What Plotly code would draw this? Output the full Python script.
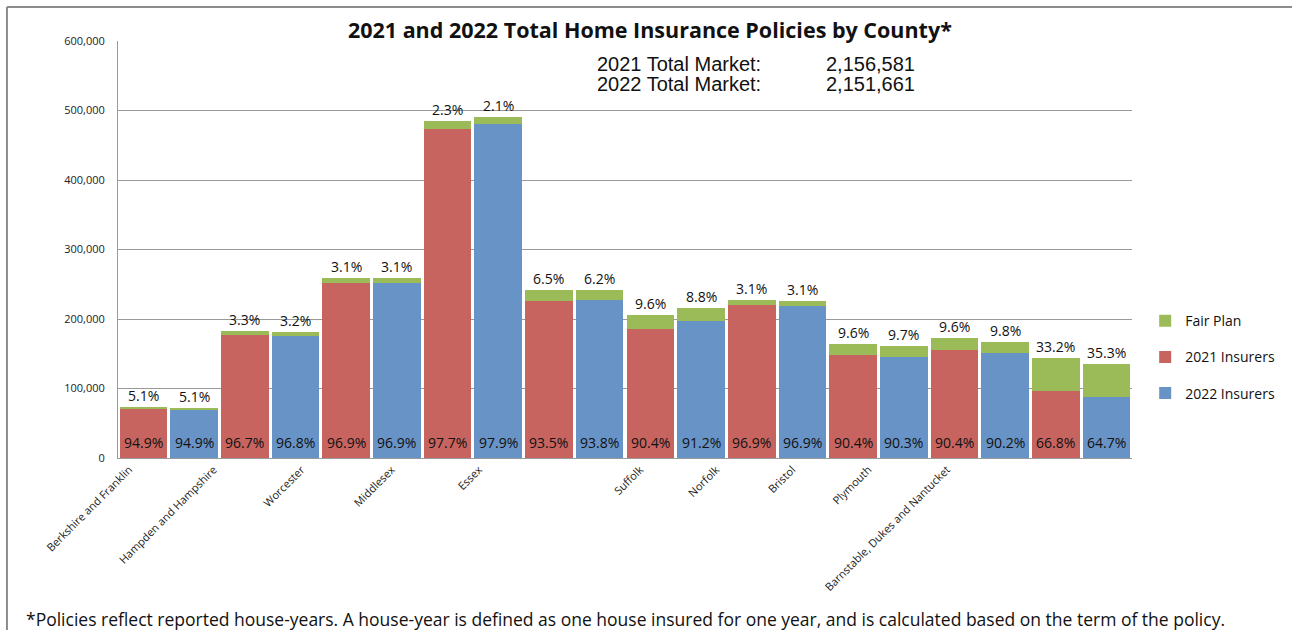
import plotly.graph_objects as go

# County groups shown on the x axis
counties = [
    "Berkshire and Franklin", "Hampden and Hampshire", "Worcester", "Middlesex",
    "Essex", "Suffolk", "Norfolk", "Bristol", "Plymouth",
    "Barnstable, Dukes and Nantucket",
]

# Total policies (insurers + Fair Plan) per county
total_2021 = [73600, 182700, 259600, 484400, 241400, 205700, 227300, 164500, 172200, 143900]
total_2022 = [72400, 181800, 259500, 491100, 241700, 215400, 225400, 161600, 166900, 134900]

# Share of policies written by voluntary insurers (%)
ins_share_2021 = [94.9, 96.7, 96.9, 97.7, 93.5, 90.4, 96.9, 90.4, 90.4, 66.8]
ins_share_2022 = [94.9, 96.8, 96.9, 97.9, 93.8, 91.2, 96.9, 90.3, 90.2, 64.7]

# Share written by the Fair Plan (%)
fair_share_2021 = [5.1, 3.3, 3.1, 2.3, 6.5, 9.6, 3.1, 9.6, 9.6, 33.2]
fair_share_2022 = [5.1, 3.2, 3.1, 2.1, 6.2, 8.8, 3.1, 9.7, 9.8, 35.3]

market_2021 = 2156581
market_2022 = 2151661

# Where each rotated county name sits along the bar axis
label_pos = [-0.28, 1.39, 3.12, 4.9, 6.62, 9.8, 11.3, 12.8, 14.3, 15.85]

RED = "#C8645F"
BLUE = "#6893C6"
GREEN = "#9BBB59"
FONT = "'Open Sans', sans-serif"
ARIAL = "'Liberation Sans', Arial, sans-serif"

n = len(counties)
x21 = [2 * i for i in range(n)]
x22 = [2 * i + 1 for i in range(n)]

ins21 = [t * s / 100 for t, s in zip(total_2021, ins_share_2021)]
ins22 = [t * s / 100 for t, s in zip(total_2022, ins_share_2022)]
fair21 = [t - v for t, v in zip(total_2021, ins21)]
fair22 = [t - v for t, v in zip(total_2022, ins22)]

fair_x = []
fair_y = []
for i in range(n):
    fair_x += [x21[i], x22[i]]
    fair_y += [fair21[i], fair22[i]]

fig = go.Figure()
fig.add_trace(go.Bar(
    x=x21, y=ins21, name="2021 Insurers", marker_color=RED, width=0.94,
    marker_line_width=0, legendrank=2, legendgroup="a",
))
fig.add_trace(go.Bar(
    x=x22, y=ins22, name="2022 Insurers", marker_color=BLUE, width=0.94,
    marker_line_width=0, legendrank=3, legendgroup="b",
))
fig.add_trace(go.Bar(
    x=fair_x, y=fair_y, name="Fair Plan", marker_color=GREEN, width=0.94,
    marker_line_width=0, legendrank=1, legendgroup="c",
))

label_font = dict(family=FONT, size=14, color="#111111")
annotations = []
for i in range(n):
    for xv, ins, fair, s_ins, s_fair in (
        (x21[i], ins21[i], fair21[i], ins_share_2021[i], fair_share_2021[i]),
        (x22[i], ins22[i], fair22[i], ins_share_2022[i], fair_share_2022[i]),
    ):
        # Insurer share printed along the foot of each bar
        annotations.append(dict(
            x=xv, y=0, xref="x", yref="y", text=f"{s_ins:.1f}%", showarrow=False,
            yanchor="bottom", yshift=4, font=label_font,
        ))
        # Fair Plan share just above the stack
        annotations.append(dict(
            x=xv, y=ins + fair, xref="x", yref="y", text=f"{s_fair:.1f}%",
            showarrow=False, yanchor="bottom", yshift=0, font=label_font,
        ))

# Market totals block
for row, (lbl, val) in enumerate((("2021 Total Market:", market_2021),
                                  ("2022 Total Market:", market_2022))):
    yy = 0.9448 - row * 0.048
    annotations.append(dict(
        x=0.4704, y=yy, xref="paper", yref="paper", text=lbl, showarrow=False,
        xanchor="left", yanchor="middle",
        font=dict(family=ARIAL, size=20, color="#111111"),
    ))
    annotations.append(dict(
        x=0.696, y=yy, xref="paper", yref="paper", text=f"{val:,}", showarrow=False,
        xanchor="left", yanchor="middle",
        font=dict(family=ARIAL, size=20, color="#111111"),
    ))

# Footnote
annotations.append(dict(
    x=0.5, y=-0.385, xref="paper", yref="paper", showarrow=False,
    xanchor="center", yanchor="middle",
    text="*Policies reflect reported house-years. A house-year is defined as one house "
         "insured for one year, and is calculated based on the term of the policy.",
    font=dict(family=FONT, size=17.5, color="#111111"),
))

# Chart frame (top and left edges)
shapes = [
    dict(type="line", xref="paper", yref="paper", x0=-0.1095, x1=1.2, y0=1.0815, y1=1.0815,
         line=dict(color="#8c8c8c", width=2)),
    dict(type="line", xref="paper", yref="paper", x0=-0.1095, x1=-0.1095, y0=1.0815, y1=-0.45,
         line=dict(color="#8c8c8c", width=2)),
]

fig.update_layout(
    width=1292, height=630,
    margin=dict(l=118, r=160, t=41, b=172, autoexpand=False),
    paper_bgcolor="white", plot_bgcolor="white",
    barmode="stack",
    bargap=0,
    title=dict(
        text="<b>2021 and 2022 Total Home Insurance Policies by County*</b>",
        x=0.503, xref="container", xanchor="center",
        y=1 - 30 / 630, yref="container", yanchor="middle",
        font=dict(family=FONT, size=21.5, color="#111111"),
    ),
    font=dict(family=FONT, color="#222222"),
    showlegend=True,
    legend=dict(
        x=1.013, xanchor="left", y=0.242, yanchor="middle",
        font=dict(family=FONT, size=14, color="#111111"),
        tracegroupgap=15, bgcolor="rgba(0,0,0,0)",
    ),
    annotations=annotations,
    shapes=shapes,
)

fig.update_xaxes(
    range=[-0.5, 2 * n - 0.5],
    tickmode="array", tickvals=label_pos, ticktext=counties,
    tickangle=-45, tickfont=dict(family=FONT, size=11, color="#222222"),
    showline=True, linecolor="#9a9a9a", linewidth=1,
    showgrid=False, zeroline=False, ticks="",
)
fig.update_yaxes(
    range=[0, 600000], dtick=100000, tickformat=",",
    tickfont=dict(family=FONT, size=11, color="#222222"),
    showline=True, linecolor="#9a9a9a", linewidth=1,
    showgrid=True, gridcolor="#9a9a9a", gridwidth=1,
    zeroline=False, ticks="", ticklabelstandoff=10,
)

fig.write_html("out.html")
